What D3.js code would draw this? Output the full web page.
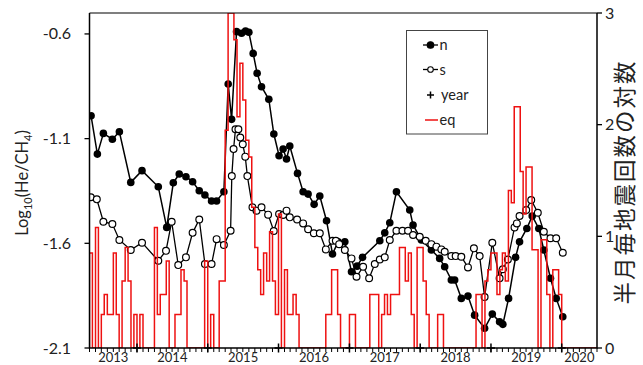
<!DOCTYPE html>
<html><head><meta charset="utf-8">
<script src="https://cdn.jsdelivr.net/npm/d3@7"></script>
<style>
body{margin:0;background:#fff}
svg{display:block}
text{font-family:Lato,"Open Sans",sans-serif;fill:#222}
</style></head><body>
<svg id="chart" width="643" height="365"></svg>
<script>
// north well: decimal year / log10(He/CH4)
const nYears = [2013.351,2013.440,2013.525,2013.652,2013.751,2013.912,2014.071,2014.301,2014.420,2014.513,2014.597,2014.692,2014.786,2014.880,2014.960,2015.054,2015.125,2015.228,2015.289,2015.337,2015.407,2015.478,2015.534,2015.581,2015.642,2015.698,2015.760,2015.863,2015.934,2016.008,2016.065,2016.113,2016.159,2016.268,2016.347,2016.417,2016.502,2016.582,2016.677,2016.761,2016.840,2016.935,2017.029,2017.108,2017.185,2017.429,2017.499,2017.570,2017.664,2017.852,2017.899,2018.017,2018.158,2018.275,2018.346,2018.440,2018.487,2018.581,2018.675,2018.769,2018.910,2019.019,2019.122,2019.168,2019.249,2019.348,2019.404,2019.507,2019.583,2019.676,2019.747,2019.841,2019.922,2020.015];
const nValues = [-0.991,-1.174,-1.075,-1.103,-1.067,-1.309,-1.253,-1.330,-1.524,-1.311,-1.269,-1.282,-1.306,-1.349,-1.369,-1.398,-1.398,-1.354,-0.839,-1.008,-0.589,-0.597,-0.586,-0.592,-0.693,-0.788,-0.852,-0.912,-1.078,-1.182,-1.150,-1.197,-1.135,-1.266,-1.354,-1.365,-1.414,-1.374,-1.492,-1.651,-1.593,-1.593,-1.736,-1.709,-1.667,-1.588,-1.550,-1.502,-1.354,-1.441,-1.513,-1.584,-1.632,-1.672,-1.712,-1.775,-1.775,-1.863,-1.852,-1.943,-2.006,-1.938,-1.975,-1.987,-1.863,-1.667,-1.593,-1.529,-1.470,-1.529,-1.632,-1.767,-1.863,-1.951];

// south well
const sYears = [2013.347,2013.432,2013.525,2013.652,2013.751,2013.912,2014.071,2014.301,2014.410,2014.490,2014.583,2014.692,2014.786,2014.880,2014.960,2015.054,2015.125,2015.228,2015.323,2015.340,2015.365,2015.392,2015.433,2015.460,2015.495,2015.530,2015.560,2015.632,2015.689,2015.760,2015.853,2015.933,2016.008,2016.065,2016.113,2016.159,2016.262,2016.347,2016.417,2016.498,2016.582,2016.667,2016.761,2016.808,2016.855,2016.935,2017.029,2017.100,2017.193,2017.278,2017.358,2017.429,2017.499,2017.570,2017.664,2017.749,2017.828,2017.899,2017.993,2018.078,2018.158,2018.229,2018.299,2018.346,2018.440,2018.501,2018.581,2018.675,2018.759,2018.840,2018.910,2019.019,2019.122,2019.168,2019.239,2019.333,2019.366,2019.404,2019.498,2019.569,2019.662,2019.747,2019.841,2019.922,2020.015];
const sValues = [-1.380,-1.390,-1.497,-1.508,-1.584,-1.632,-1.597,-1.683,-1.636,-1.497,-1.704,-1.667,-1.550,-1.486,-1.699,-1.699,-1.580,-1.608,-1.540,-1.279,-1.150,-1.055,-1.055,-1.095,-1.127,-1.186,-1.279,-1.428,-1.444,-1.428,-1.463,-1.541,-1.460,-1.465,-1.444,-1.476,-1.486,-1.505,-1.533,-1.552,-1.552,-1.629,-1.588,-1.588,-1.604,-1.632,-1.672,-1.760,-1.712,-1.767,-1.699,-1.677,-1.667,-1.584,-1.540,-1.540,-1.540,-1.560,-1.569,-1.588,-1.604,-1.616,-1.629,-1.640,-1.661,-1.661,-1.664,-1.715,-1.624,-1.661,-1.857,-1.597,-1.767,-1.724,-1.677,-1.524,-1.505,-1.470,-1.441,-1.393,-1.454,-1.545,-1.576,-1.576,-1.645];

// year markers (+) sitting on the axis floor
const yearMarks = [2014,2015,2016,2017,2018,2019,2020];
const yearMarkValue = -2.1;

// log10 of earthquake count per half month, bins from 2013-05-01
const eqStart = [2013, 4];
const eqValues = [
0.85,0,1.08,0,0.3,0.48,0.3,0.3,0.85,0.3,0,0.6,0.9,0.6,0,0.3,0,0.3,0,0,
0,0,1.08,0.3,0.48,0.48,0.78,0,0,0.3,0.3,0.7,0.6,0,0,0,0,0,0,0.78,
0,0.3,0,0,0.6,0.6,1.95,3.0,3.0,2.76,2.07,2.55,2.22,1.86,1.71,1.26,0.9,0.7,0.48,0.85,
0.6,1.04,0.6,0.3,1.2,0,0.7,0.3,0.3,0.48,0.3,0,0,0,0,0,0,0,0,0,
0.3,0.3,0.7,0.7,0.3,0,0,0,0.3,0.3,0,0,0,0,0,0.48,0.48,0.48,0,0.3,
0.48,0.3,0.48,0.48,0.48,0.9,0.9,0.6,0.85,0.3,0,0.9,0.9,0.6,0.3,0,0,0,0.3,0.3,
0,0,0,0,0,0,0,0,0,0,0,0.48,0.48,0,0.6,0.7,0.85,0.85,0.48,0.7,
0.85,0.6,1.41,1.3,2.16,2.16,1.58,1.2,1.62,1.62,0.88,0.88,0,0.97,0.97,0.48,0,0.7,0.7,0.48,
0,0,0,0,0,0,0,0,0,0,0,0
];

const leftTicks = [-0.6,-1.1,-1.6,-2.1];
const rightTicks = [0,1,2,3];
const yearLabels = [2013,2014,2015,2016,2017,2018,2019,2020];

const W = 643, H = 365;
const M = {left: 89.5, right: 597, top: 13, bottom: 348};

function fromDecimal(t) {
  const y = Math.floor(t);
  const a = new Date(y, 0, 1), b = new Date(y + 1, 0, 1);
  return new Date(+a + (t - y) * (b - a));
}

const x = d3.scaleTime()
  .domain([new Date(2013, 4, 1), new Date(2020, 6, 1)])
  .range([M.left, M.right]);
const yL = d3.scaleLinear().domain([-2.1, -0.5]).range([M.bottom, M.top]);
const yR = d3.scaleLinear().domain([0, 3]).range([M.bottom, M.top]);

const svg = d3.select("#chart");

svg.append("defs").append("clipPath").attr("id", "plotClip")
  .append("rect").attr("x", M.left).attr("y", M.top)
  .attr("width", M.right - M.left).attr("height", M.bottom - M.top);

const plot = svg.append("g").attr("clip-path", "url(#plotClip)");

// north and south series
const nData = nYears.map((t, i) => ({d: fromDecimal(t), v: nValues[i]}));
const sData = sYears.map((t, i) => ({d: fromDecimal(t), v: sValues[i]}));
const line = d3.line().x(p => x(p.d)).y(p => yL(p.v));

plot.append("path").datum(nData).attr("d", line)
  .attr("fill", "none").attr("stroke", "#000").attr("stroke-width", 1.5);
plot.append("path").datum(sData).attr("d", line)
  .attr("fill", "none").attr("stroke", "#000").attr("stroke-width", 1.3);

plot.selectAll("circle.n").data(nData).join("circle").attr("class", "n")
  .attr("cx", p => x(p.d)).attr("cy", p => yL(p.v)).attr("r", 3.8)
  .attr("fill", "#000");
plot.selectAll("circle.s").data(sData).join("circle").attr("class", "s")
  .attr("cx", p => x(p.d)).attr("cy", p => yL(p.v)).attr("r", 3.4)
  .attr("fill", "#fff").attr("stroke", "#000").attr("stroke-width", 1.2);

// earthquake step outline
const eqData = eqValues.map((v, i) => ({
  d: new Date(eqStart[0], eqStart[1] + Math.floor(i / 2), i % 2 ? 16 : 1), v}));
const lastI = eqValues.length;
eqData.push({d: new Date(eqStart[0], eqStart[1] + Math.floor(lastI / 2), lastI % 2 ? 16 : 1), v: 0});
eqData.unshift({d: eqData[0].d, v: 0});
plot.append("path").datum(eqData)
  .attr("d", d3.line().x(p => x(p.d)).y(p => yR(p.v)).curve(d3.curveStepAfter))
  .attr("fill", "none").attr("stroke", "#ee1111").attr("stroke-width", 1.5);

// year markers
const cross = svg.append("g");
yearMarks.forEach(yr => {
  const cx = x(new Date(yr, 0, 1)), cy = yL(yearMarkValue);
  cross.append("path")
    .attr("d", `M${cx - 4},${cy}H${cx + 4}M${cx},${cy - 4.5}V${cy + 4.5}`)
    .attr("stroke", "#000").attr("stroke-width", 1.5);
});

// frame and axes
const ax = svg.append("g").attr("stroke", "#000").attr("stroke-width", 1.5).attr("fill", "none");
ax.append("path").attr("d", `M${M.left},${M.top}H${M.right}`).attr("stroke-width", 1.2);
ax.append("path").attr("d", `M${M.left},${M.top}V${M.bottom}H${M.right}V${M.top}`);

// month ticks under the time axis
const months = d3.timeMonth.range(x.domain()[0], d3.timeDay.offset(x.domain()[1], 1));
svg.append("g").selectAll("line").data(months).join("line")
  .attr("x1", d => x(d)).attr("x2", d => x(d))
  .attr("y1", M.bottom).attr("y2", M.bottom + 4)
  .attr("stroke", "#000").attr("stroke-width", 1);

// year labels centred in each year's span
const [d0, d1] = x.domain();
svg.append("g").selectAll("text").data(yearLabels).join("text")
  .attr("x", yr => {
    const a = Math.max(+d0, +new Date(yr, 0, 1));
    const b = Math.min(+d1, +new Date(yr + 1, 0, 1));
    return (x(new Date(a)) + x(new Date(b))) / 2;
  })
  .attr("y", 361.5).attr("text-anchor", "middle").attr("font-size", 13)
  .text(yr => yr);

// left axis
svg.append("g").selectAll("line").data(leftTicks).join("line")
  .attr("x1", M.left - 5).attr("x2", M.left).attr("y1", v => yL(v)).attr("y2", v => yL(v))
  .attr("stroke", "#000").attr("stroke-width", 1.3);
svg.append("g").selectAll("text").data(leftTicks).join("text")
  .attr("x", 71).attr("y", v => yL(v) + 5.5).attr("text-anchor", "end")
  .attr("font-size", 16).text(v => v.toFixed(1));

// right axis
svg.append("g").selectAll("line").data(rightTicks).join("line")
  .attr("x1", M.right).attr("x2", M.right + 5).attr("y1", v => yR(v)).attr("y2", v => yR(v))
  .attr("stroke", "#000").attr("stroke-width", 1.3);
svg.append("g").selectAll("text").data(rightTicks).join("text")
  .attr("x", 605).attr("y", v => yR(v) + 5.5).attr("text-anchor", "start")
  .attr("font-size", 16).text(v => v);

// axis titles
const tl = svg.append("text").attr("transform", "translate(28,183) rotate(-90)")
  .attr("text-anchor", "middle").attr("font-size", 16.5);
tl.append("tspan").text("Log");
tl.append("tspan").attr("font-size", 11).attr("dy", 4).text("10");
tl.append("tspan").attr("dy", -4).text("(He/CH");
tl.append("tspan").attr("font-size", 11).attr("dy", 4).text("4");
tl.append("tspan").attr("dy", -4).text(")");

svg.append("text").attr("transform", "translate(633,182) rotate(-90)")
  .attr("text-anchor", "middle").attr("font-size", 22.5).attr("letter-spacing", 2)
  .style("font-family", "'Noto Sans CJK JP',sans-serif")
  .text("半月毎地震回数の対数");

// legend
const lg = svg.append("g");
lg.append("rect").attr("x", 406.5).attr("y", 30.5).attr("width", 81).attr("height", 103.5)
  .attr("fill", "#fff").attr("stroke", "#444").attr("stroke-width", 1);
const rows = [
  {k: "n", y: 45}, {k: "s", y: 69.5}, {k: "year", y: 95}, {k: "eq", y: 120}
];
rows.forEach(r => {
  if (r.k === "n" || r.k === "s") {
    lg.append("line").attr("x1", 423).attr("x2", 438).attr("y1", r.y).attr("y2", r.y)
      .attr("stroke", "#000").attr("stroke-width", 1.3);
    lg.append("circle").attr("cx", 430.5).attr("cy", r.y).attr("r", r.k === "n" ? 3.3 : 2.8)
      .attr("fill", r.k === "n" ? "#000" : "#fff").attr("stroke", "#000").attr("stroke-width", 1.1);
  } else if (r.k === "year") {
    lg.append("path").attr("d", `M${427},${r.y}H${434}M${430.5},${r.y - 3.5}V${r.y + 3.5}`)
      .attr("stroke", "#000").attr("stroke-width", 1.5);
  } else {
    lg.append("line").attr("x1", 425).attr("x2", 438).attr("y1", r.y).attr("y2", r.y)
      .attr("stroke", "#ee1111").attr("stroke-width", 1.5);
  }
  lg.append("text").attr("x", r.k === "year" ? 441 : 439.5).attr("y", r.y + 5)
    .attr("font-size", 14.5).text(r.k);
});
</script>
</body></html>
